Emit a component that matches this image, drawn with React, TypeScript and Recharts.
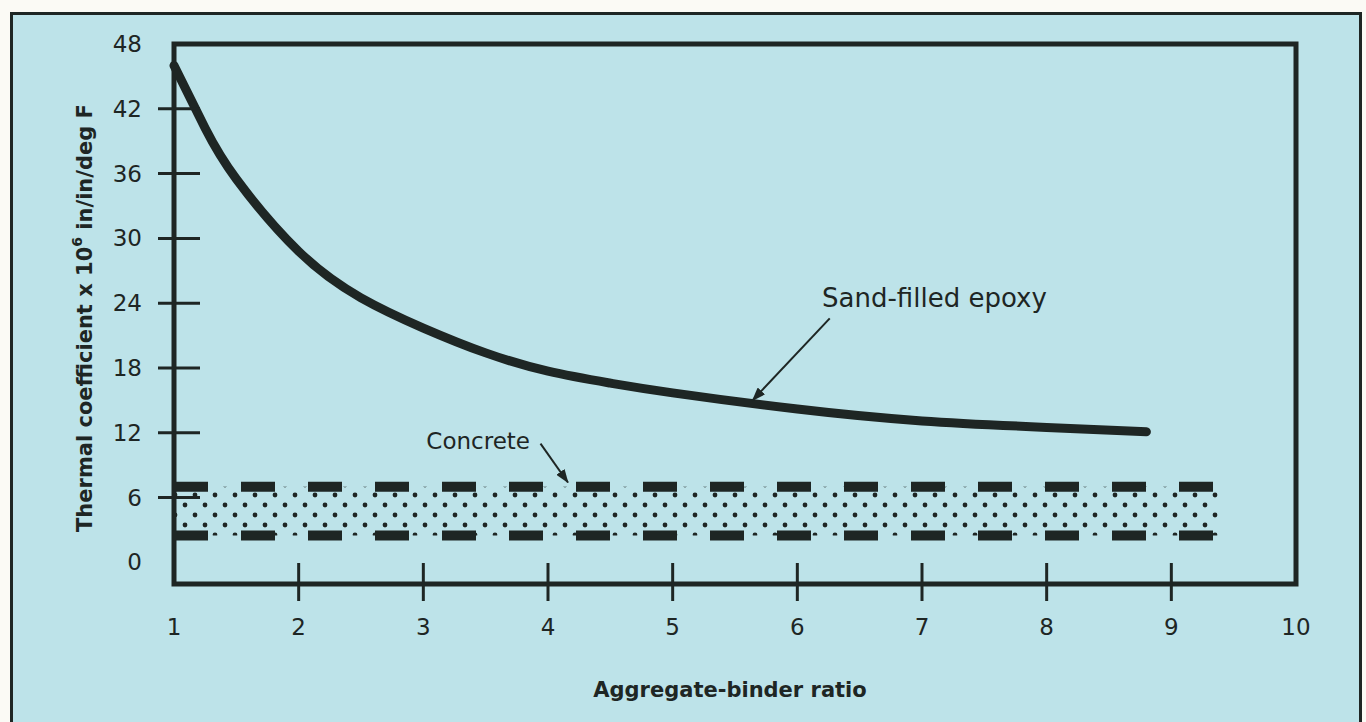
import React from "react";
import {
  ComposedChart,
  Line,
  Area,
  XAxis,
  YAxis,
  ReferenceArea,
  ReferenceLine,
  ReferenceDot,
  Label,
} from "recharts";

// sand-filled epoxy curve (aggregate-binder ratio -> thermal coefficient)
const ratios = [1, 1.25, 1.5, 2, 2.5, 3, 3.5, 4, 4.5, 5, 6, 7, 8, 8.8];
const epoxy = [46.0, 40.2, 35.5, 28.8, 24.5, 21.7, 19.4, 17.7, 16.6, 15.7, 14.2, 13.1, 12.5, 12.1];

// concrete band
const concreteRatios = [1, 9.4];
const concreteLow = [2.5, 2.5];
const concreteHigh = [7, 7];

const xTicks = [1, 2, 3, 4, 5, 6, 7, 8, 9, 10];
const yTicks = [0, 6, 12, 18, 24, 30, 36, 42, 48];

const INK = "#1e2624";
const BG = "#bde3e9";
const FONT = "'DejaVu Sans', sans-serif";

const epoxyData = ratios.map((r, i) => ({ ratio: r, epoxy: epoxy[i] }));
const concreteData = concreteRatios.map((r, i) => ({
  ratio: r,
  low: concreteLow[i],
  high: concreteHigh[i],
  range: [concreteLow[i], concreteHigh[i]],
}));

const YTick = (props: any) => {
  const { x, y, payload } = props;
  const v = payload.value;
  return (
    <g>
      {v !== 0 && v !== 48 && (
        <line x1={x - 16} x2={x + 26} y1={y} y2={y} stroke={INK} strokeWidth={3} />
      )}
      <text
        x={x - 32}
        y={y}
        textAnchor="end"
        dominantBaseline="central"
        fontSize={23}
        fontFamily={FONT}
        fill={INK}
      >
        {v}
      </text>
    </g>
  );
};

const XTick = (props: any) => {
  const { x, y, payload } = props;
  const v = payload.value;
  return (
    <g>
      {v !== 1 && v !== 10 && (
        <line x1={x} x2={x} y1={y - 21} y2={y + 17} stroke={INK} strokeWidth={3} />
      )}
      <text
        x={x}
        y={y + 43}
        textAnchor="middle"
        dominantBaseline="central"
        fontSize={23}
        fontFamily={FONT}
        fill={INK}
      >
        {v}
      </text>
    </g>
  );
};

const YTitle = (props: any) => {
  const { viewBox } = props;
  const cx = viewBox.x - 29;
  const cy = viewBox.y + viewBox.height / 2 + 4;
  return (
    <text
      x={cx}
      y={cy}
      transform={`rotate(-90, ${cx}, ${cy})`}
      textAnchor="middle"
      dominantBaseline="central"
      fontSize={21}
      fontWeight="bold"
      fontFamily={FONT}
      fill={INK}
    >
      Thermal coefficient x 10
      <tspan baselineShift="super" fontSize={14}>6</tspan> in/in/deg F
    </text>
  );
};

export default function App() {
  return (
    <div
      style={{
        position: "absolute",
        left: 0,
        top: 0,
        width: 1366,
        height: 722,
        background: "#fbfaf5",
        overflow: "hidden",
      }}
    >
      <div
        style={{
          position: "absolute",
          left: 10,
          top: 12,
          width: 1352,
          height: 740,
          background: BG,
          border: `3px solid ${INK}`,
          boxSizing: "border-box",
        }}
      />
      <div style={{ position: "absolute", left: 0, top: 0 }}>
        <ComposedChart
          width={1366}
          height={722}
          margin={{ top: 44, right: 70, left: 114, bottom: 78 }}
        >
          <defs>
            <pattern id="dots" width="20" height="20" patternUnits="userSpaceOnUse">
              <circle cx="5" cy="5" r="2.4" fill={INK} />
              <circle cx="15" cy="15" r="2.4" fill={INK} />
            </pattern>
            <marker
              id="arrow"
              viewBox="0 0 14 10"
              refX="13"
              refY="5"
              markerWidth="14"
              markerHeight="10"
              markerUnits="userSpaceOnUse"
              orient="auto"
            >
              <path d="M0,0 L14,5 L0,10 z" fill={INK} />
            </marker>
          </defs>
          <XAxis
            dataKey="ratio"
            type="number"
            domain={[1, 10]}
            ticks={xTicks}
            axisLine={false}
            tickLine={false}
            tickSize={0}
            tickMargin={0}
            tick={<XTick />}
            height={60}
            allowDuplicatedCategory={false}
          >
            <Label
              value="Aggregate-binder ratio"
              position="bottom"
              offset={38}
              fontSize={21}
              fontWeight="bold"
              fontFamily={FONT}
              fill={INK}
              dx={-5}
            />
          </XAxis>
          <YAxis
            type="number"
            domain={[-2, 48]}
            ticks={yTicks}
            axisLine={false}
            tickLine={false}
            tickSize={0}
            tickMargin={0}
            tick={<YTick />}
            width={60}
          >
            <Label content={<YTitle />} />
          </YAxis>

          <Area
            data={concreteData}
            dataKey="range"
            type="linear"
            stroke="none"
            fill="url(#dots)"
            fillOpacity={1}
            isAnimationActive={false}
          />
          <Line
            data={concreteData}
            dataKey="high"
            type="linear"
            stroke={INK}
            strokeWidth={10}
            strokeDasharray="34 33"
            dot={false}
            isAnimationActive={false}
          />
          <Line
            data={concreteData}
            dataKey="low"
            type="linear"
            stroke={INK}
            strokeWidth={10}
            strokeDasharray="34 33"
            dot={false}
            isAnimationActive={false}
          />
          <Line
            data={epoxyData}
            dataKey="epoxy"
            type="natural"
            stroke={INK}
            strokeWidth={9}
            strokeLinecap="round"
            dot={false}
            isAnimationActive={false}
          />

          <ReferenceArea
            x1={1}
            x2={10}
            y1={-2}
            y2={48}
            fill="none"
            stroke={INK}
            strokeWidth={5}
            ifOverflow="visible"
          />

          <ReferenceLine
            segment={[
              { x: 6.26, y: 22.6 },
              { x: 5.64, y: 15.0 },
            ]}
            stroke={INK}
            strokeWidth={2}
            markerEnd="url(#arrow)"
          />
          <ReferenceLine
            segment={[
              { x: 3.94, y: 11.0 },
              { x: 4.16, y: 7.4 },
            ]}
            stroke={INK}
            strokeWidth={2}
            markerEnd="url(#arrow)"
          />
          <ReferenceDot
            x={7.1}
            y={24.5}
            r={0}
            fill="none"
            stroke="none"
            label={{
              value: "Sand-filled epoxy",
              position: "center",
              fontSize: 26,
              fontFamily: FONT,
              fill: INK,
            }}
          />
          <ReferenceDot
            x={3.44}
            y={11.3}
            r={0}
            fill="none"
            stroke="none"
            label={{
              value: "Concrete",
              position: "center",
              fontSize: 23,
              fontFamily: FONT,
              fill: INK,
            }}
          />
        </ComposedChart>
      </div>
    </div>
  );
}
